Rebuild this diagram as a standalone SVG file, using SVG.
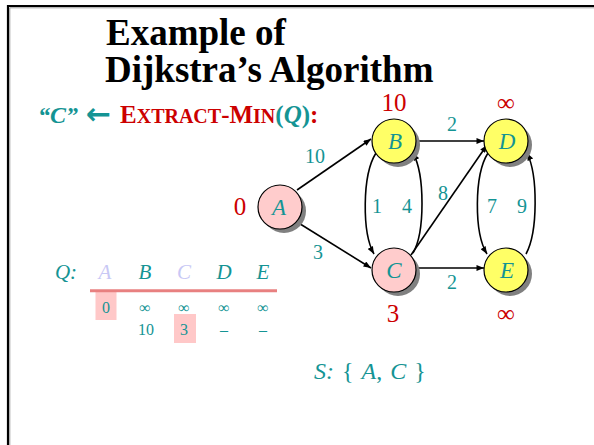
<svg xmlns="http://www.w3.org/2000/svg" width="594" height="445" viewBox="0 0 594 445">
<defs>
<style>
text{font-family:"Liberation Serif","Times New Roman",serif;}
.title{font-size:37px;font-weight:bold;fill:#000;}
.teal{fill:#149494;}
.red{fill:#cc0000;}
.lbl{font-size:20px;fill:#149494;text-anchor:middle;}
.dist{font-size:25px;fill:#cc0000;text-anchor:middle;}
.nt{font-size:23px;font-style:italic;fill:#149494;text-anchor:middle;}
.q{font-size:21px;font-style:italic;fill:#149494;text-anchor:middle;}
.ql{fill:#c8c8f5;}
.row{font-size:16px;fill:#149494;text-anchor:middle;}
.edge{fill:none;stroke:#000;stroke-width:1.6;}
.shadow{fill:#808080;}
.y{fill:#ffff66;stroke:#000;stroke-width:1.2;}
.p{fill:#ffcccc;stroke:#000;stroke-width:1.2;}
</style>
<marker id="ah" viewBox="0 0 10 8" refX="10" refY="4" markerWidth="8" markerHeight="6" markerUnits="userSpaceOnUse" orient="auto">
<path d="M0,0 L10,4 L0,8 Z" fill="#000"/>
</marker>
</defs>
<rect width="594" height="445" fill="#fff"/>
<path d="M8,445 V6 H594" fill="none" stroke="#000" stroke-width="2.2"/>
<path d="M9.8,445 V7.8 H594" fill="none" stroke="#9a9a9a" stroke-width="1"/>

<text class="title" x="106" y="44.5">Example of</text>
<text class="title" x="105" y="81.5">Dijkstra’s Algorithm</text>

<g id="header">
<text x="38" y="123" class="teal" font-weight="bold" font-style="italic" font-size="24">“C”</text>
<text x="86" y="124" class="teal" font-size="30" font-weight="bold" style="font-family:'DejaVu Sans',sans-serif">←</text>
<text x="120" y="123" class="red" font-weight="bold" font-size="25">E<tspan font-size="20">XTRACT</tspan>-M<tspan font-size="20">IN</tspan><tspan class="teal">(<tspan font-style="italic">Q</tspan>)</tspan>:</text>
</g>

<g id="connectors">
<line class="edge" x1="297" y1="190" x2="371" y2="139" marker-end="url(#ah)"/>
<line class="edge" x1="297" y1="222" x2="371" y2="268" marker-end="url(#ah)"/>
<line class="edge" x1="416" y1="141" x2="484" y2="141" marker-end="url(#ah)"/>
<line class="edge" x1="416" y1="268" x2="484" y2="268" marker-end="url(#ah)"/>
<line class="edge" x1="411" y1="255" x2="487" y2="145" marker-end="url(#ah)"/>
<path class="edge" d="M376,153 C362,175 362,233 374,254" marker-end="url(#ah)"/>
<path class="edge" d="M413,253 C425,232 425,175 413,153" marker-end="url(#ah)"/>
<path class="edge" d="M488,153 C474,175 474,233 487,254" marker-end="url(#ah)"/>
<path class="edge" d="M526,254 C538,232 538,175 527,153" marker-end="url(#ah)"/>
<text class="lbl" x="315" y="163">10</text>
<text class="lbl" x="318" y="259">3</text>
<text class="lbl" x="452" y="131">2</text>
<text class="lbl" x="452" y="289">2</text>
<text class="lbl" x="443" y="200">8</text>
<text class="lbl" x="377" y="213">1</text>
<text class="lbl" x="407" y="213">4</text>
<text class="lbl" x="492" y="213">7</text>
<text class="lbl" x="522" y="213">9</text>
</g>

<g id="node-A">
<circle class="shadow" cx="284" cy="211" r="22"/>
<circle class="p" cx="280" cy="207" r="22"/>
<text class="nt" x="279" y="215">A</text>
<text class="dist" x="240" y="215">0</text>
</g>
<g id="node-B">
<circle class="shadow" cx="398" cy="145" r="22"/>
<circle class="y" cx="394" cy="141" r="22"/>
<text class="nt" x="395" y="149">B</text>
<text class="dist" x="394" y="111">10</text>
</g>
<g id="node-C">
<circle class="shadow" cx="398" cy="274" r="22"/>
<circle class="p" cx="394" cy="270" r="22"/>
<text class="nt" x="394" y="278">C</text>
<text class="dist" x="393" y="322">3</text>
</g>
<g id="node-D">
<circle class="shadow" cx="510" cy="145" r="22"/>
<circle class="y" cx="506" cy="141" r="22"/>
<text class="nt" x="507" y="149">D</text>
<text class="dist" x="506" y="111">∞</text>
</g>
<g id="node-E">
<circle class="shadow" cx="510" cy="274" r="22"/>
<circle class="y" cx="506" cy="270" r="22"/>
<text class="nt" x="507" y="278">E</text>
<text class="dist" x="506" y="322">∞</text>
</g>

<g id="queue">
<rect x="95.5" y="291" width="21" height="29" fill="#ffc8c8"/>
<rect x="174" y="314" width="22" height="29" fill="#ffc8c8"/>
<line x1="90" y1="290.7" x2="277" y2="290.7" stroke="#e88080" stroke-width="3"/>
<text class="q" x="66" y="279">Q:</text>
<text class="q ql" x="105" y="279">A</text>
<text class="q" x="145" y="279">B</text>
<text class="q ql" x="184" y="279">C</text>
<text class="q" x="224" y="279">D</text>
<text class="q" x="263" y="279">E</text>
<text class="row" x="106" y="313">0</text>
<text class="row" x="145" y="313">∞</text>
<text class="row" x="184" y="313">∞</text>
<text class="row" x="224" y="313">∞</text>
<text class="row" x="263" y="313">∞</text>
<text class="row" x="146" y="335">10</text>
<text class="row" x="184" y="335">3</text>
<text class="row" x="224" y="335">–</text>
<text class="row" x="263" y="335">–</text>
</g>

<text x="314" y="379" font-size="24" class="teal" word-spacing="2"><tspan font-style="italic">S:</tspan> { <tspan font-style="italic">A</tspan>, <tspan font-style="italic">C</tspan> }</text>
</svg>
